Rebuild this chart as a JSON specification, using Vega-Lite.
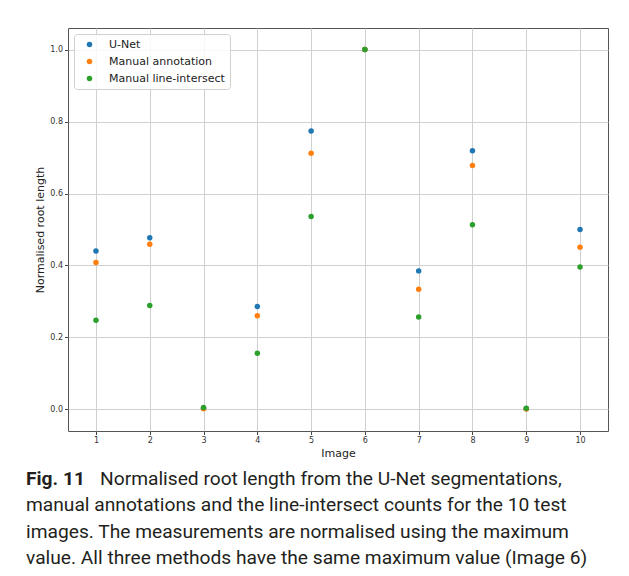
{
  "$schema": "https://vega.github.io/schema/vega-lite/v6.json",
  "background": "white",
  "padding": {"left": 26, "top": 27, "right": 10, "bottom": 4},
  "bounds": "flush",
  "spacing": 41,
  "config": {
    "font": "DejaVu Sans",
    "view": {"stroke": "#555", "strokeWidth": 1},
    "axis": {
      "domain": false,
      "grid": true,
      "gridColor": "#d0d0d0",
      "gridWidth": 1,
      "tickColor": "#444",
      "tickSize": 3.5,
      "labelFontSize": 8,
      "labelColor": "#333",
      "titleFontSize": 11,
      "titleFontWeight": "normal",
      "titleColor": "#222"
    }
  },
  "vconcat": [
    {
      "width": 540,
      "height": 403,
      "data": {
        "values": [
          {"image": 1, "method": "U-Net", "value": 0.440},
          {"image": 2, "method": "U-Net", "value": 0.477},
          {"image": 3, "method": "U-Net", "value": 0.003},
          {"image": 4, "method": "U-Net", "value": 0.286},
          {"image": 5, "method": "U-Net", "value": 0.774},
          {"image": 6, "method": "U-Net", "value": 1.0},
          {"image": 7, "method": "U-Net", "value": 0.385},
          {"image": 8, "method": "U-Net", "value": 0.719},
          {"image": 9, "method": "U-Net", "value": 0.002},
          {"image": 10, "method": "U-Net", "value": 0.500},
          {"image": 1, "method": "Manual annotation", "value": 0.408},
          {"image": 2, "method": "Manual annotation", "value": 0.459},
          {"image": 3, "method": "Manual annotation", "value": 0.002},
          {"image": 4, "method": "Manual annotation", "value": 0.260},
          {"image": 5, "method": "Manual annotation", "value": 0.712},
          {"image": 6, "method": "Manual annotation", "value": 1.0},
          {"image": 7, "method": "Manual annotation", "value": 0.334},
          {"image": 8, "method": "Manual annotation", "value": 0.678},
          {"image": 9, "method": "Manual annotation", "value": 0.001},
          {"image": 10, "method": "Manual annotation", "value": 0.451},
          {"image": 1, "method": "Manual line-intersect", "value": 0.248},
          {"image": 2, "method": "Manual line-intersect", "value": 0.289},
          {"image": 3, "method": "Manual line-intersect", "value": 0.005},
          {"image": 4, "method": "Manual line-intersect", "value": 0.156},
          {"image": 5, "method": "Manual line-intersect", "value": 0.536},
          {"image": 6, "method": "Manual line-intersect", "value": 1.0},
          {"image": 7, "method": "Manual line-intersect", "value": 0.257},
          {"image": 8, "method": "Manual line-intersect", "value": 0.513},
          {"image": 9, "method": "Manual line-intersect", "value": 0.003},
          {"image": 10, "method": "Manual line-intersect", "value": 0.396}
        ]
      },
      "mark": {"type": "circle", "size": 30, "opacity": 1},
      "encoding": {
        "x": {
          "field": "image",
          "type": "quantitative",
          "scale": {"domain": [0.48, 10.52], "nice": false, "zero": false},
          "axis": {
            "values": [1, 2, 3, 4, 5, 6, 7, 8, 9, 10],
            "format": "d",
            "title": "Image",
            "labelPadding": 1.5,
            "titlePadding": 3
          }
        },
        "y": {
          "field": "value",
          "type": "quantitative",
          "scale": {"domain": [-0.06, 1.06], "nice": false, "zero": false},
          "axis": {
            "values": [0, 0.2, 0.4, 0.6, 0.8, 1.0],
            "format": ".1f",
            "title": "Normalised root length",
            "labelPadding": 2,
            "titlePadding": 4
          }
        },
        "color": {
          "field": "method",
          "type": "nominal",
          "sort": ["U-Net", "Manual annotation", "Manual line-intersect"],
          "scale": {
            "domain": ["U-Net", "Manual annotation", "Manual line-intersect"],
            "range": ["#1f77b4", "#ff7f0e", "#2ca02c"]
          },
          "legend": {
            "title": null,
            "orient": "top-left",
            "offset": 6,
            "padding": 5,
            "rowPadding": 5,
            "symbolType": "circle",
            "symbolSize": 30,
            "symbolStrokeWidth": 0,
            "symbolOffset": 5,
            "labelOffset": 14,
            "labelFontSize": 11,
            "labelColor": "#222",
            "strokeColor": "#d0d0d0",
            "fillColor": "rgba(255,255,255,0.85)",
            "cornerRadius": 3
          }
        }
      }
    },
    {
      "width": 540,
      "height": 105,
      "view": {"stroke": null},
      "data": {
        "values": [
          {"line": 1, "part": "label", "text": "Fig. 11"},
          {"line": 1, "part": "first", "text": "Normalised root length from the U-Net segmentations,"},
          {"line": 2, "part": "rest", "text": "manual annotations and the line-intersect counts for the 10 test"},
          {"line": 3, "part": "rest", "text": "images. The measurements are normalised using the maximum"},
          {"line": 4, "part": "rest", "text": "value. All three methods have the same maximum value (Image 6)"}
        ]
      },
      "encoding": {
        "y": {"field": "line", "type": "ordinal", "axis": null},
        "x": {"datum": 0, "type": "quantitative", "scale": {"domain": [0, 1]}, "axis": null},
        "text": {"field": "text"}
      },
      "layer": [
        {
          "transform": [{"filter": "datum.part === 'label'"}],
          "mark": {"type": "text", "align": "left", "baseline": "alphabetic", "dx": -42, "font": "Roboto", "fontSize": 19.2, "fontWeight": "bold", "color": "#231f20"}
        },
        {
          "transform": [{"filter": "datum.part === 'first'"}],
          "mark": {"type": "text", "align": "left", "baseline": "alphabetic", "dx": 32, "font": "Roboto", "fontSize": 19.2, "color": "#231f20"}
        },
        {
          "transform": [{"filter": "datum.part === 'rest'"}],
          "mark": {"type": "text", "align": "left", "baseline": "alphabetic", "dx": -42, "font": "Roboto", "fontSize": 19.2, "color": "#231f20"}
        }
      ]
    }
  ]
}
